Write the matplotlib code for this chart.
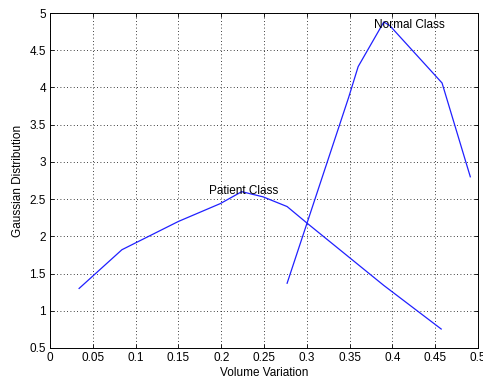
import matplotlib
matplotlib.use("Agg")
import matplotlib.pyplot as plt

patient_x = [0.034, 0.084, 0.150, 0.199, 0.224, 0.249, 0.277, 0.300, 0.390, 0.457]
patient_y = [1.30, 1.82, 2.20, 2.44, 2.60, 2.53, 2.40, 2.18, 1.34, 0.755]
normal_x = [0.277, 0.349, 0.360, 0.390, 0.397, 0.458, 0.491]
normal_y = [1.37, 3.87, 4.28, 4.88, 4.83, 4.06, 2.80]
xticks = [0, 0.05, 0.1, 0.15, 0.2, 0.25, 0.3, 0.35, 0.4, 0.45, 0.5]
xticklabels = ["0", "0.05", "0.1", "0.15", "0.2", "0.25", "0.3", "0.35", "0.4", "0.45", "0.5"]
yticks = [0.5, 1, 1.5, 2, 2.5, 3, 3.5, 4, 4.5, 5]
yticklabels = ["0.5", "1", "1.5", "2", "2.5", "3", "3.5", "4", "4.5", "5"]

plt.rcParams['font.family'] = ['Liberation Sans', 'DejaVu Sans']
fig = plt.figure(figsize=(4.83, 3.83), dpi=100)
ax = fig.add_axes([50/483, 1-348/383, 428/483, 335/383])
ax.plot(patient_x, patient_y, color='#2020ff', lw=0.9)
ax.plot(normal_x, normal_y, color='#2020ff', lw=0.9)
ax.text(0.186, 2.61, "Patient Class", fontsize=8.5, va='center', ha='left')
ax.text(0.378, 4.84, "Normal Class", fontsize=8.5, va='center', ha='left')
ax.set_xlim(0, 0.5)
ax.set_ylim(0.5, 5)
ax.set_xticks(xticks)
ax.set_xticklabels(xticklabels)
ax.set_yticks(yticks)
ax.set_yticklabels(yticklabels)
ax.tick_params(direction='in', top=True, right=True, labelsize=8.5, length=3, width=0.6, pad=3)
ax.grid(True, color='black', linestyle=(0, (1, 3)), lw=0.6)
for s in ax.spines.values():
    s.set_linewidth(0.7)
ax.set_xlabel("Volume Variation", fontsize=8.5, labelpad=2)
ax.set_ylabel("Gaussian Distribution", fontsize=8.5, labelpad=4)
fig.savefig("out.png", dpi=100)
